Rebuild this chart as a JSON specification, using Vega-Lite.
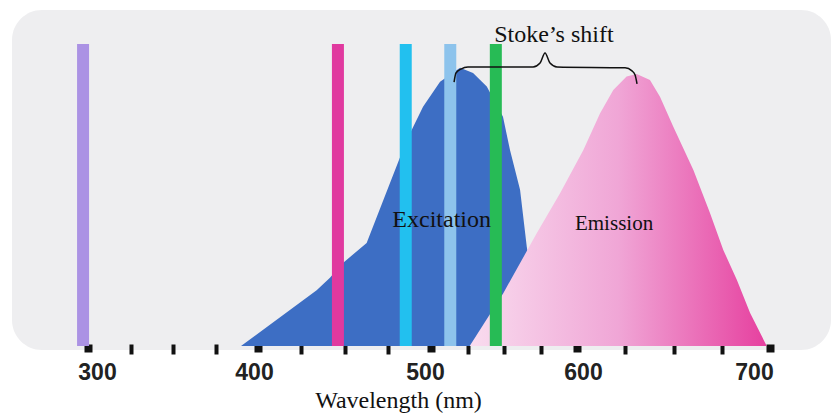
{
  "$schema": "https://vega.github.io/schema/vega-lite/v6.json",
  "width": 819,
  "height": 340,
  "autosize": {"type": "none"},
  "padding": {"left": 12, "top": 10, "right": 0, "bottom": 64},
  "background": "white",
  "config": {"view": {"fill": "#eeeef0", "stroke": null, "cornerRadius": 30}},
  "datasets": {
    "excitation": [
      {"nm": 390, "v": 0},
      {"nm": 433.9, "v": 0.185},
      {"nm": 441.6, "v": 0.226},
      {"nm": 449.1, "v": 0.275},
      {"nm": 462.8, "v": 0.341},
      {"nm": 476.3, "v": 0.54},
      {"nm": 486.0, "v": 0.682},
      {"nm": 495.4, "v": 0.792},
      {"nm": 506.2, "v": 0.875},
      {"nm": 519.9, "v": 0.921},
      {"nm": 528.8, "v": 0.904},
      {"nm": 538.2, "v": 0.859},
      {"nm": 549.3, "v": 0.759},
      {"nm": 554.1, "v": 0.649},
      {"nm": 561.0, "v": 0.517},
      {"nm": 565.6, "v": 0.329},
      {"nm": 571.2, "v": 0.152},
      {"nm": 574.7, "v": 0}
    ],
    "emission": [
      {"nm": 526.5, "v": 0},
      {"nm": 549.5, "v": 0.175},
      {"nm": 572.4, "v": 0.373},
      {"nm": 588.4, "v": 0.506},
      {"nm": 603.3, "v": 0.649},
      {"nm": 611.9, "v": 0.77},
      {"nm": 618.8, "v": 0.848},
      {"nm": 625.7, "v": 0.892},
      {"nm": 630.9, "v": 0.901},
      {"nm": 637.8, "v": 0.881},
      {"nm": 643.0, "v": 0.825},
      {"nm": 649.9, "v": 0.726},
      {"nm": 660.3, "v": 0.583},
      {"nm": 668.9, "v": 0.44},
      {"nm": 675.8, "v": 0.318},
      {"nm": 682.8, "v": 0.219},
      {"nm": 689.7, "v": 0.109},
      {"nm": 698.3, "v": 0}
    ],
    "filters": [
      {"filter": "violet", "nm": 297.1},
      {"filter": "magenta", "nm": 446.2},
      {"filter": "cyan", "nm": 485.4},
      {"filter": "sky", "nm": 513.2},
      {"filter": "green", "nm": 544.4}
    ],
    "brace": [
      {"i": 1, "nm": 515.8, "v": 0.874},
      {"i": 2, "nm": 517.1, "v": 0.904},
      {"i": 3, "nm": 520.5, "v": 0.917},
      {"i": 4, "nm": 525.3, "v": 0.924},
      {"i": 5, "nm": 569.9, "v": 0.924},
      {"i": 6, "nm": 574.7, "v": 0.937},
      {"i": 7, "nm": 578.1, "v": 0.97},
      {"i": 8, "nm": 581.5, "v": 0.937},
      {"i": 9, "nm": 586.3, "v": 0.924},
      {"i": 10, "nm": 624.9, "v": 0.921},
      {"i": 11, "nm": 628.5, "v": 0.911},
      {"i": 12, "nm": 630.1, "v": 0.897},
      {"i": 13, "nm": 631.1, "v": 0.868}
    ],
    "bigText": [
      {"label": "Excitation", "nm": 507.3, "v": 0.395},
      {"label": "Stoke’s shift", "nm": 584.2, "v": 1.006}
    ],
    "smallText": [
      {"label": "Emission", "nm": 619.2, "v": 0.384}
    ]
  },
  "layer": [
    {
      "data": {"name": "excitation"},
      "mark": {"type": "area", "color": "#3d6ec4", "interpolate": "linear"},
      "encoding": {
        "x": {
          "field": "nm",
          "type": "quantitative",
          "scale": {"domain": [300, 400, 500, 600, 700], "range": [76, 246, 419, 565, 758]},
          "axis": {
            "values": [300, 325, 350, 375, 400, 425, 450, 475, 500, 525, 550, 575, 600, 625, 650, 675, 700],
            "labelExpr": "datum.value % 100 === 0 ? datum.label : ''",
            "labelFont": "Liberation Sans",
            "labelFontWeight": "bold",
            "labelFontSize": 23,
            "labelColor": "#222222",
            "labelBaseline": "alphabetic",
            "labelPadding": 27,
            "labelOverlap": false,
            "labelFlush": false,
            "labelOffset": {
              "condition": [
                {"test": "datum.value === 300", "value": 9},
                {"test": "datum.value === 400", "value": -4},
                {"test": "datum.value === 500", "value": -6},
                {"test": "datum.value === 600", "value": 6},
                {"test": "datum.value === 700", "value": -16}
              ],
              "value": 0
            },
            "tickSize": {"condition": {"test": "datum.value % 100 === 0", "value": 8}, "value": 10},
            "tickWidth": {"condition": {"test": "datum.value % 100 === 0", "value": 8}, "value": 4},
            "tickColor": "#111111",
            "tickCap": "butt",
            "domain": false,
            "grid": false,
            "offset": -6,
            "title": "Wavelength (nm)",
            "titleFont": "Liberation Serif",
            "titleFontSize": 24,
            "titleFontWeight": "normal",
            "titleColor": "#111111",
            "titleX": 386,
            "titleY": 63,
            "titleBaseline": "alphabetic",
            "titleAlign": "center"
          }
        },
        "y": {
          "field": "v",
          "type": "quantitative",
          "scale": {"domain": [0, 1], "range": [336, 34]},
          "axis": null
        }
      }
    },
    {
      "data": {"name": "emission"},
      "mark": {
        "type": "area",
        "interpolate": "linear",
        "color": {
          "gradient": "linear",
          "x1": 0, "x2": 1, "y1": 0, "y2": 0,
          "stops": [
            {"offset": 0, "color": "#f9dcef"},
            {"offset": 0.5, "color": "#f0a6d6"},
            {"offset": 1, "color": "#e6409f"}
          ]
        }
      },
      "encoding": {
        "x": {"field": "nm", "type": "quantitative"},
        "y": {"field": "v", "type": "quantitative"}
      }
    },
    {
      "data": {"name": "filters"},
      "mark": {"type": "rule", "strokeWidth": 12, "strokeCap": "butt"},
      "encoding": {
        "x": {"field": "nm", "type": "quantitative"},
        "y": {"datum": 1},
        "y2": {"datum": 0},
        "color": {
          "field": "filter",
          "type": "nominal",
          "scale": {
            "domain": ["violet", "magenta", "cyan", "sky", "green"],
            "range": ["#ab92e4", "#e0399f", "#22c0ef", "#8dc3ec", "#27bb55"]
          },
          "legend": null
        }
      }
    },
    {
      "data": {"name": "brace"},
      "mark": {"type": "line", "color": "#111111", "strokeWidth": 1.5, "interpolate": "monotone"},
      "encoding": {
        "x": {"field": "nm", "type": "quantitative"},
        "y": {"field": "v", "type": "quantitative"},
        "order": {"field": "i", "type": "quantitative"}
      }
    },
    {
      "data": {"name": "bigText"},
      "mark": {"type": "text", "font": "Liberation Serif", "fontSize": 24, "color": "#111111", "align": "center", "baseline": "alphabetic"},
      "encoding": {
        "x": {"field": "nm", "type": "quantitative"},
        "y": {"field": "v", "type": "quantitative"},
        "text": {"field": "label"}
      }
    },
    {
      "data": {"name": "smallText"},
      "mark": {"type": "text", "font": "Liberation Serif", "fontSize": 21, "color": "#111111", "align": "center", "baseline": "alphabetic"},
      "encoding": {
        "x": {"field": "nm", "type": "quantitative"},
        "y": {"field": "v", "type": "quantitative"},
        "text": {"field": "label"}
      }
    }
  ]
}
